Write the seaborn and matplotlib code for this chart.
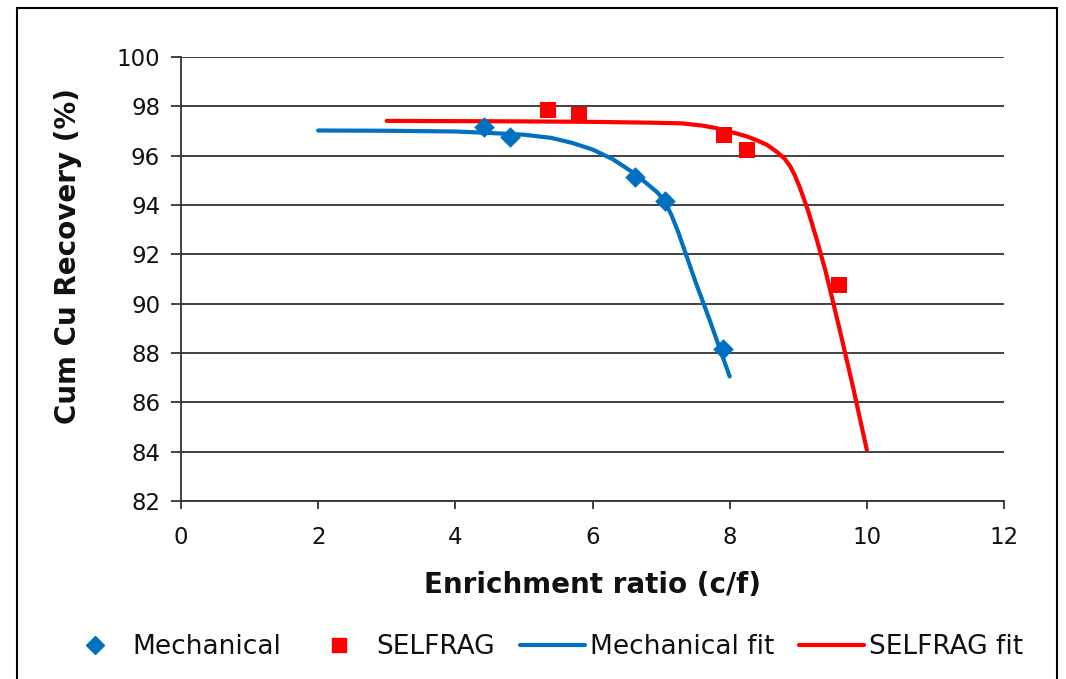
import matplotlib
matplotlib.use("Agg")
import matplotlib.pyplot as plt
import seaborn as sns
import pandas as pd
from matplotlib.patches import Rectangle
from matplotlib.lines import Line2D

# Data
mech_x = [4.42, 4.80, 6.62, 7.05, 7.90]
mech_y = [97.15, 96.75, 95.15, 94.15, 88.15]
self_x = [5.35, 5.80, 7.92, 8.26, 9.60]
self_y = [97.85, 97.65, 96.82, 96.22, 90.75]

mech_fit_x = [2.0, 3.0, 4.0, 4.5, 5.0, 5.4, 5.7, 6.0, 6.3, 6.6, 6.8, 6.95, 7.05, 7.15, 7.25, 7.35, 7.5, 7.7, 8.0]
mech_fit_y = [97.02, 97.01, 96.98, 96.92, 96.85, 96.72, 96.52, 96.25, 95.85, 95.3, 94.85, 94.5, 94.15, 93.6, 92.9, 92.1, 90.9, 89.4, 87.05]
self_fit_x = [3.0, 4.0, 5.0, 6.0, 6.8, 7.3, 7.6, 7.8, 7.95, 8.1, 8.25, 8.4, 8.55, 8.69, 8.8, 8.88, 8.95, 9.02, 9.14, 9.27, 9.4, 9.6, 9.8, 10.0]
self_fit_y = [97.41, 97.40, 97.39, 97.37, 97.34, 97.31, 97.22, 97.12, 97.0, 96.9, 96.78, 96.62, 96.43, 96.15, 95.88, 95.58, 95.2, 94.73, 93.8, 92.6, 91.3, 89.0, 86.6, 84.07]

x_ticks = [0, 2, 4, 6, 8, 10, 12]
y_ticks = [82, 84, 86, 88, 90, 92, 94, 96, 98, 100]

BLUE = "#0070C0"
RED = "#FF0000"

sns.set_style("white")
plt.rcParams["font.family"] = ["DejaVu Sans"]

fig = plt.figure(figsize=(10.66, 6.79), dpi=100)
ax = fig.add_axes([181/1066, 1-501/679, (1004-181)/1066, (501-57)/679])

mdf = pd.DataFrame({"x": mech_x, "y": mech_y})
sdf = pd.DataFrame({"x": self_x, "y": self_y})
mfd = pd.DataFrame({"x": mech_fit_x, "y": mech_fit_y})
sfd = pd.DataFrame({"x": self_fit_x, "y": self_fit_y})

sns.lineplot(data=mfd, x="x", y="y", ax=ax, color=BLUE, lw=3, sort=False, zorder=3)
sns.lineplot(data=sfd, x="x", y="y", ax=ax, color=RED, lw=3, sort=False, zorder=3)
sns.scatterplot(data=mdf, x="x", y="y", ax=ax, color=BLUE, marker="D", s=110, linewidth=0, zorder=4)
sns.scatterplot(data=sdf, x="x", y="y", ax=ax, color=RED, marker="s", s=130, linewidth=0, zorder=4)

ax.set_xlim(0, 12)
ax.set_ylim(82, 100)
ax.set_xticks(x_ticks)
ax.set_yticks(y_ticks)
ax.set_xticklabels([str(t) for t in x_ticks])
ax.set_yticklabels([str(t) for t in y_ticks])
ax.yaxis.grid(True, color="#333333", lw=1.3)
ax.set_axisbelow(True)
for s in ["top", "right"]:
    ax.spines[s].set_visible(False)
for s in ["left", "bottom"]:
    ax.spines[s].set_color("#333333")
    ax.spines[s].set_linewidth(1.3)
ax.tick_params(axis="both", direction="out", width=1.3, color="#333333",
               labelsize=16.5, labelcolor="#111111", left=True, bottom=True)
ax.tick_params(axis="y", length=7, pad=8)
ax.tick_params(axis="x", length=6, pad=12)
ax.set_xlabel("Enrichment ratio (c/f)", fontsize=20, fontweight="bold", va="center", color="#111111")
ax.set_ylabel("Cum Cu Recovery (%)", fontsize=20, fontweight="bold", va="center", color="#111111")
ax.xaxis.set_label_coords(0.5, (501-585)/444)
ax.yaxis.set_label_coords((68-181)/823, (501-256)/444)

handles = [
    Line2D([], [], ls="none", marker="D", color=BLUE, markersize=9),
    Line2D([], [], ls="none", marker="s", color=RED, markersize=10),
    Line2D([], [], color=BLUE, lw=3),
    Line2D([], [], color=RED, lw=3),
]
labels = ["Mechanical", "SELFRAG", "Mechanical fit", "SELFRAG fit"]
leg = fig.legend(handles, labels, loc="center", bbox_to_anchor=(543/1066, 1-647/679), ncol=4,
                 frameon=False, fontsize=19, handlelength=2.45, handletextpad=0.2, columnspacing=0.95)
for t in leg.get_texts():
    t.set_color("#111111")

fig.patches.append(Rectangle((17/1066, -0.05), (1057-17)/1066, 1-8/679+0.05,
                             transform=fig.transFigure, fill=False, edgecolor="black", lw=1.5))

fig.savefig("out.png", dpi=100)
